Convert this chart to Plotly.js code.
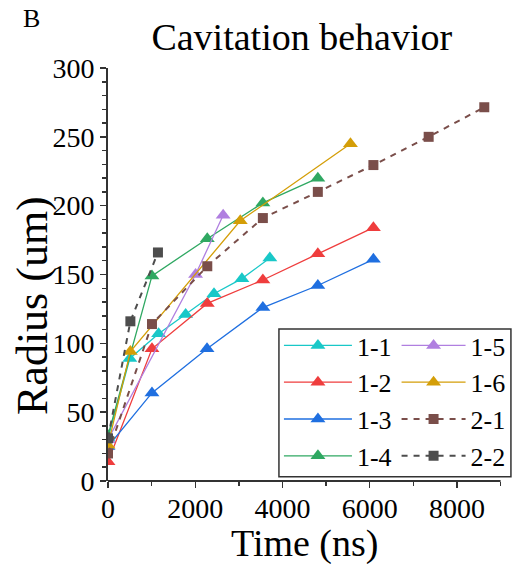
<!DOCTYPE html>
<html>
<head>
<meta charset="utf-8">
<script src="https://cdn.plot.ly/plotly-3.0.1.min.js"></script>
<style>html,body{margin:0;padding:0;background:#fff;}#chart{width:515px;height:564px;}</style>
</head>
<body>
<div id="chart"></div>
<script>
// Series data: time (ns) and radius (um)
const names = ["1-1", "1-2", "1-3", "1-4", "1-5", "1-6", "2-1", "2-2"];
const x11 = [0, 500, 1160, 1780, 2430, 3070, 3710];
const y11 = [31, 89, 107, 121, 136, 147, 162];
const x12 = [0, 1008, 2276, 3550, 4810, 6084];
const y12 = [14, 96, 129, 146, 165, 184];
const x13 = [0, 1008, 2270, 3550, 4810, 6084];
const y13 = [25, 64, 96, 126, 142, 161];
const x14 = [0, 1008, 2276, 3550, 4810];
const y14 = [33, 149, 176, 202, 220];
const x15 = [0, 2008, 2640];
const y15 = [30, 150, 193];
const x16 = [0, 512, 3032, 5558];
const y16 = [26, 94, 189, 245];
const x21 = [0, 1008, 2276, 3550, 4810, 6084, 7351, 8626];
const y21 = [20, 114, 156, 191, 210, 229.5, 250, 271.5];
const x22 = [0, 513, 1145];
const y22 = [31, 116, 166];

const xs = [x11, x12, x13, x14, x15, x16, x21, x22];
const ys = [y11, y12, y13, y14, y15, y16, y21, y22];
const colors = ["#19c8c8", "#ef3d3d", "#1f6fe0", "#2fa862", "#b07fe0", "#d49e08", "#7a4e4a", "#4d4d4d"];

// axis extents
const xAxisEnd = 9000;
const xRange = [0, 9330];
const yRange = [0, 300];

const serif = "Liberation Serif, Times New Roman, serif";

const traces = names.map((n, i) => {
  const dashed = i >= 6;
  return {
    x: xs[i], y: ys[i], name: n,
    type: "scatter", mode: "lines+markers",
    line: {color: colors[i], width: dashed ? 2 : 1.3, dash: dashed ? "6px,6px" : "solid"},
    marker: {color: colors[i], symbol: dashed ? "square" : "triangle-up", size: dashed ? 10 : 13},
    legend: i < 4 ? "legend" : "legend2",
    showlegend: true
  };
});

const legendCommon = {
  font: {family: serif, size: 26, color: "#000"},
  bgcolor: "rgba(0,0,0,0)", borderwidth: 0,
  xanchor: "left", yanchor: "top",
  tracegroupgap: 0, traceorder: "normal"
};

const layout = {
  width: 515, height: 564,
  margin: {l: 108, r: 0, t: 68, b: 83, autoexpand: false},
  paper_bgcolor: "#fff", plot_bgcolor: "#fff",
  showlegend: true,
  title: {text: "Cavitation behavior", font: {family: serif, size: 38, color: "#000"},
          x: 0.586, xref: "container", xanchor: "center", y: 0.912, yanchor: "bottom", yref: "container"},
  xaxis: {
    range: xRange, showgrid: false, zeroline: false,
    showline: false,
    ticks: "outside", ticklen: 6, tickwidth: 1.5, tickcolor: "#333",
    dtick: 2000, tick0: 0, ticklabelstandoff: -4,
    minor: {dtick: 1000, ticks: "outside", ticklen: 4, tickwidth: 1.5, tickcolor: "#333"},
    tickfont: {family: serif, size: 28, color: "#000"}
  },
  yaxis: {
    range: yRange, showgrid: false, zeroline: false,
    showline: true, linecolor: "#333", linewidth: 2,
    ticks: "outside", ticklen: 6, tickwidth: 1.5, tickcolor: "#333",
    dtick: 50, tick0: 0,
    minor: {dtick: 10, ticks: "outside", ticklen: 4, tickwidth: 1.5, tickcolor: "#333"},
    tickfont: {family: serif, size: 28, color: "#000"}
  },
  legend: Object.assign({}, legendCommon, {x: 0.42, y: 0.385, itemwidth: 68}),
  legend2: Object.assign({}, legendCommon, {x: 0.709, y: 0.385, itemwidth: 64}),
  shapes: [{
    type: "line", xref: "x", yref: "paper", x0: 0, x1: xAxisEnd, y0: 0, y1: 0,
    line: {color: "#333", width: 2}, layer: "above"
  }, {
    type: "rect", xref: "paper", yref: "paper",
    x0: 0.420, x1: 0.990, y0: 0.01, y1: 0.368,
    line: {color: "#333", width: 1.5}, fillcolor: "rgba(0,0,0,0)", layer: "above"
  }],
  annotations: [{
    text: "B", xref: "paper", yref: "paper", x: -0.189, y: 1.121,
    xanchor: "center", yanchor: "middle", showarrow: false,
    font: {family: serif, size: 26, color: "#000"}
  }, {
    text: "Radius (um)", xref: "paper", yref: "paper", x: -0.184, y: 0.424,
    xanchor: "center", yanchor: "middle", showarrow: false, textangle: -90,
    font: {family: serif, size: 44, color: "#000"}
  }, {
    text: "Time (ns)", xref: "paper", yref: "paper", x: 0.484, y: -0.152,
    xanchor: "center", yanchor: "middle", showarrow: false,
    font: {family: serif, size: 38, color: "#000"}
  }]
};

Plotly.newPlot("chart", traces, layout, {displayModeBar: false, staticPlot: true});
</script>
</body>
</html>
